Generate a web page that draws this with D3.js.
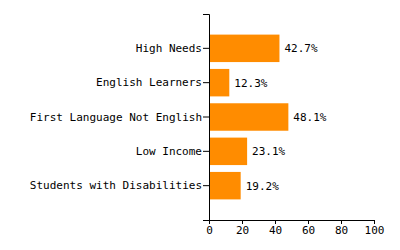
<!DOCTYPE html>
<html>
<head>
<meta charset="utf-8">
<script src="https://d3js.org/d3.v7.min.js"></script>
<style>
body { margin: 0; background: #fff; }
text { font-family: "DejaVu Sans Mono", monospace; }
</style>
</head>
<body>
<div class="container"></div>
<script>
const wd = 400
const ht = 250

// groups and their shares (percent)
const groups = ["High Needs", "English Learners", "First Language Not English", "Low Income", "Students with Disabilities"]
const shares = [42.7, 12.3, 48.1, 23.1, 19.2]
const xTicks = [0, 20, 40, 60, 80, 100]

const margin = {top: 14, right: 26, bottom: 30, left: 209}

const svgC = d3.select(".container")
.append("svg")
.attr("width", wd)
.attr("height", ht)

const g = svgC.append("g")
.attr("transform", `translate(${margin.left},${margin.top})`)

const iw = wd - margin.left - margin.right
const ih = ht - margin.top - margin.bottom

const x = d3.scaleLinear().domain([0, 100]).range([0, iw])
const y = d3.scaleBand().domain(groups).range([0, ih]).paddingInner(0.2).paddingOuter(0.6)

const rows = groups.map((d, i) => ({name: d, val: shares[i]}))

g.selectAll("rect")
.data(rows)
.enter()
.append("rect")
.attr("x", 0)
.attr("y", d => y(d.name))
.attr("width", d => x(d.val))
.attr("height", y.bandwidth())
.attr("fill", "#ff8c00")

g.selectAll(".val")
.data(rows)
.enter()
.append("text")
.attr("class", "val")
.attr("x", d => x(d.val) + 5)
.attr("y", d => y(d.name) + y.bandwidth() / 2)
.attr("dy", "0.35em")
.style("font-size", "11px")
.attr("fill", "#000")
.text(d => d.val.toFixed(1) + "%")

const yAx = g.append("g").call(d3.axisLeft(y).tickSize(6).tickPadding(1))
yAx.selectAll("text").style("font-size", "11px").attr("fill", "#000")

const xAx = g.append("g")
.attr("transform", `translate(0,${ih})`)
.call(d3.axisBottom(x).tickValues(xTicks).tickSize(4).tickPadding(2))
xAx.selectAll("text").style("font-size", "11px").attr("fill", "#000")
</script>
</body>
</html>
